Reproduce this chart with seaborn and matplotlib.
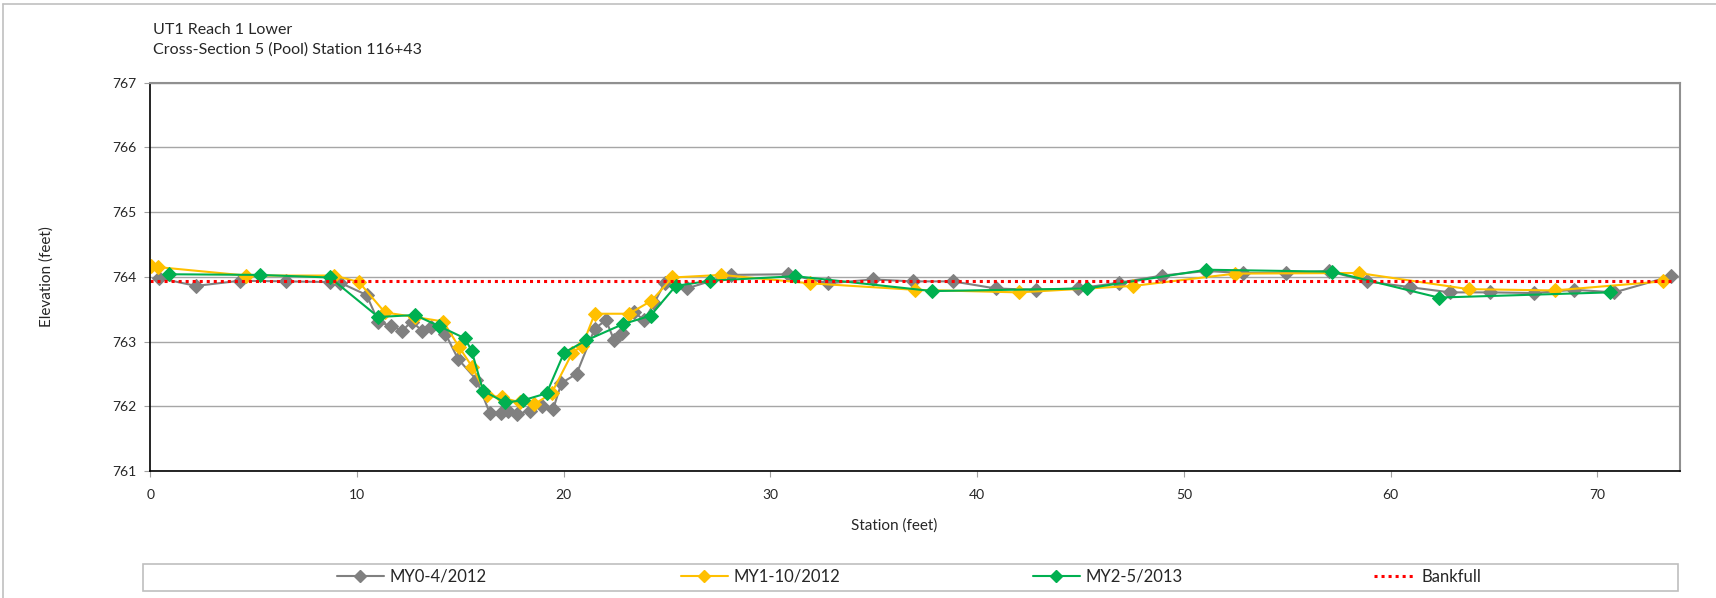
import matplotlib
matplotlib.use("Agg")
import matplotlib.pyplot as plt
from matplotlib.patches import Rectangle
from matplotlib.lines import Line2D
import seaborn as sns

# survey data
my0_station = [0.44, 2.21, 4.34, 6.55, 8.69, 9.18, 10.46, 11.03, 11.62, 12.2, 12.64, 13.14,
               13.57, 14.28, 14.89, 15.78, 16.43, 16.96, 17.31, 17.75, 18.38, 18.97, 19.49,
               19.89, 20.62, 21.5, 22.04, 22.44, 22.84, 23.39, 23.89, 24.37, 24.89, 25.94,
               28.07, 30.85, 32.79, 34.96, 36.9, 38.83, 40.9, 42.83, 44.88, 46.86, 48.95,
               51.08, 52.85, 54.95, 57.01, 58.85, 60.95, 62.88, 64.82, 66.96, 68.89, 70.83,
               73.57]
my0_elev = [763.98, 763.86, 763.94, 763.93, 763.92, 763.91, 763.72, 763.31, 763.24, 763.17,
            763.31, 763.17, 763.22, 763.12, 762.73, 762.41, 761.89, 761.89, 761.93, 761.88,
            761.93, 762.01, 761.96, 762.36, 762.50, 763.20, 763.33, 763.02, 763.14, 763.46,
            763.33, 763.59, 763.91, 763.82, 764.03, 764.04, 763.90, 763.96, 763.93, 763.93,
            763.82, 763.80, 763.82, 763.91, 764.02, 764.09, 764.06, 764.06, 764.09, 763.93,
            763.84, 763.76, 763.76, 763.75, 763.80, 763.76, 764.01]

my1_station = [0.02, 0.39, 4.63, 8.9, 10.09, 11.35, 12.8, 14.17, 14.93, 15.57, 16.27, 16.99,
               17.88, 18.57, 19.41, 20.42, 20.89, 21.5, 23.16, 24.24, 25.26, 27.63, 31.93,
               36.98, 42.0, 47.56, 52.48, 58.45, 63.77, 67.93, 73.16]
my1_elev = [764.17, 764.15, 764.02, 764.02, 763.92, 763.45, 763.38, 763.31, 762.92, 762.61,
            762.17, 762.14, 762.06, 762.03, 762.20, 762.83, 762.93, 763.43, 763.43, 763.63,
            763.99, 764.03, 763.90, 763.80, 763.76, 763.86, 764.05, 764.06, 763.81, 763.79,
            763.93]

my2_station = [0.92, 5.3, 8.69, 11.03, 12.8, 13.96, 15.22, 15.54, 16.1, 17.15, 18.01, 19.17,
               20.02, 21.1, 22.87, 24.2, 25.42, 27.07, 31.21, 37.83, 45.31, 51.08, 57.18,
               62.32, 70.59]
my2_elev = [764.04, 764.03, 763.99, 763.38, 763.41, 763.24, 763.05, 762.86, 762.24, 762.06,
            762.09, 762.20, 762.83, 763.02, 763.27, 763.40, 763.86, 763.94, 764.01, 763.78,
            763.82, 764.11, 764.08, 763.68, 763.76]

bankfull_station = [0, 73.6]
bankfull_elev = [763.93, 763.93]

sns.set_style("white")
plt.rcParams['font.family'] = ['Lato', 'DejaVu Sans']

W, H = 1716, 598
fig = plt.figure(figsize=(W / 100, H / 100), dpi=100)
ax = fig.add_axes([150.3 / W, 1 - 471 / H, (1680 - 150.3) / W, (471 - 82.7) / H])

series = [
    (my0_station, my0_elev, '#808080', 'MY0-4/2012'),
    (my1_station, my1_elev, '#FFC000', 'MY1-10/2012'),
    (my2_station, my2_elev, '#00B050', 'MY2-5/2013'),
]
for xs, ys, col, lab in series:
    sns.lineplot(x=xs, y=ys, ax=ax, sort=False, color=col, linewidth=1.5, marker='D',
                 markersize=7, markeredgecolor=col, markerfacecolor=col, label=lab)

bf_style = dict(color='#FF0000', linewidth=2.2, linestyle=(0, (1, 1.3)))
sns.lineplot(x=bankfull_station, y=bankfull_elev, ax=ax, label='Bankfull', **bf_style)

ax.set_xlim(0, 74)
ax.set_ylim(761, 767)
ax.set_xticks(range(0, 71, 10))
ax.set_yticks(range(761, 768))
ax.yaxis.grid(True, color='#a6a6a6', linewidth=1)
ax.xaxis.grid(False)
ax.set_axisbelow(True)

for s in ['left', 'bottom']:
    ax.spines[s].set_color('black')
    ax.spines[s].set_linewidth(1.2)
for s in ['top', 'right']:
    ax.spines[s].set_color('#909090')
    ax.spines[s].set_linewidth(1.5)

ax.tick_params(axis='both', which='major', labelsize=10, color='#a0a0a0', length=4,
               direction='out', left=True, bottom=True)
ax.tick_params(axis='y', pad=6)
ax.tick_params(axis='x', pad=9)

ax.set_xlabel('Station (feet)', fontsize=11)
ax.set_ylabel('Elevation (feet)', fontsize=11)
ax.xaxis.set_label_coords(0.486, -0.121)
ax.yaxis.set_label_coords(-0.063, 0.5)

fig.text(153 / W, 1 - 30 / H, 'UT1 Reach 1 Lower', fontsize=11.5, va='center', ha='left')
fig.text(153 / W, 1 - 50 / H, 'Cross-Section 5 (Pool) Station 116+43', fontsize=11.5,
         va='center', ha='left')

# legend entries in a box under the plot, each placed where Excel put it
ax.get_legend().remove()
legend_x = [337, 681, 1033, 1374]
legend_len = [2.8, 2.8, 2.8, 2.5]
handles = [Line2D([], [], color=c, linewidth=1.5, marker='D', markersize=6,
                  markeredgecolor=c, markerfacecolor=c) for _, _, c, _ in series]
handles.append(Line2D([], [], **bf_style))
labels = [lab for _, _, _, lab in series] + ['Bankfull']
for h, lab, lx, hl in zip(handles, labels, legend_x, legend_len):
    fig.legend([h], [lab], loc='center left', bbox_to_anchor=(lx / W, 1 - 577 / H),
               frameon=False, fontsize=12, handlelength=hl, handletextpad=0.35,
               borderpad=0, borderaxespad=0)
fig.patches.append(Rectangle((142.7 / W, 1 - 590.7 / H), (1677.7 - 142.7) / W,
                             (590.7 - 564) / H, transform=fig.transFigure, fill=False,
                             edgecolor='#bfbfbf', linewidth=1.2))

# outer chart border (top and left visible)
fig.add_artist(Line2D([3 / W, 1], [1 - 4 / H, 1 - 4 / H], transform=fig.transFigure,
                      color='#c0c0c0', linewidth=1.2))
fig.add_artist(Line2D([3 / W, 3 / W], [0, 1 - 4 / H], transform=fig.transFigure,
                      color='#c0c0c0', linewidth=1.2))

fig.savefig('out.png', dpi=100)
